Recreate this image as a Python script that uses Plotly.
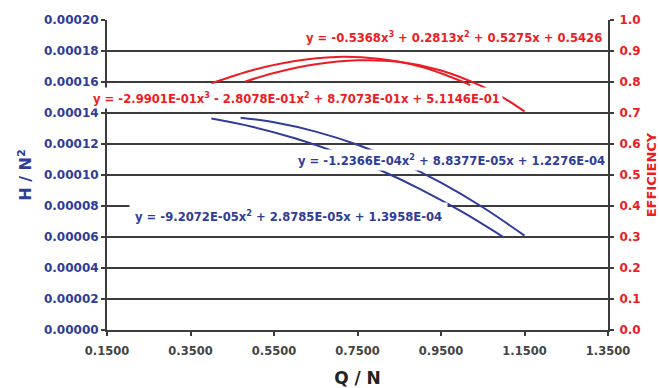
import plotly.graph_objects as go

# ---- data ----
# Head coefficient curves (left axis, H / N^2)
q_head_a = [0.40, 0.50, 0.60, 0.70, 0.80, 0.90, 1.00, 1.10]
h_head_a = [1.364e-4, 1.310e-4, 1.237e-4, 1.146e-4, 1.037e-4, 0.909e-4, 0.763e-4, 0.598e-4]

q_head_b = [0.47, 0.55, 0.65, 0.75, 0.85, 0.95, 1.05, 1.15]
h_head_b = [1.370e-4, 1.340e-4, 1.280e-4, 1.195e-4, 1.085e-4, 0.951e-4, 0.792e-4, 0.609e-4]

# Efficiency curves (right axis)
q_eff_a = [0.40, 0.50, 0.60, 0.70, 0.80, 0.90, 1.00, 1.02]
e_eff_a = [0.796, 0.839, 0.868, 0.881, 0.875, 0.850, 0.802, 0.790]

q_eff_b = [0.48, 0.55, 0.65, 0.75, 0.85, 0.95, 1.05, 1.10, 1.15]
e_eff_b = [0.801, 0.829, 0.857, 0.870, 0.865, 0.837, 0.785, 0.749, 0.705]

x_ticks = [0.15, 0.35, 0.55, 0.75, 0.95, 1.15, 1.35]
y_ticks = [0.0, 0.00002, 0.00004, 0.00006, 0.00008, 0.00010, 0.00012, 0.00014, 0.00016, 0.00018, 0.00020]
y2_ticks = [0.0, 0.1, 0.2, 0.3, 0.4, 0.5, 0.6, 0.7, 0.8, 0.9, 1.0]

eq_eff_top = "y = -0.5368x<sup>3</sup> + 0.2813x<sup>2</sup> + 0.5275x + 0.5426"
eq_eff_mid = "y = -2.9901E-01x<sup>3</sup> - 2.8078E-01x<sup>2</sup> + 8.7073E-01x + 5.1146E-01"
eq_head_b = "y = -1.2366E-04x<sup>2</sup> + 8.8377E-05x + 1.2276E-04"
eq_head_a = "y = -9.2072E-05x<sup>2</sup> + 2.8785E-05x + 1.3958E-04"

BLUE = "#2f3c98"
RED = "#ec1c24"
GRID = "#3c3c3c"
FONT = "DejaVu Sans, sans-serif"

fig = go.Figure()
fig.add_trace(go.Scatter(x=q_head_a, y=h_head_a, mode="lines", line=dict(color=BLUE, width=2, shape="spline"), showlegend=False))
fig.add_trace(go.Scatter(x=q_head_b, y=h_head_b, mode="lines", line=dict(color=BLUE, width=2, shape="spline"), showlegend=False))
fig.add_trace(go.Scatter(x=q_eff_a, y=e_eff_a, mode="lines", yaxis="y2", line=dict(color=RED, width=2, shape="spline"), showlegend=False))
fig.add_trace(go.Scatter(x=q_eff_b, y=e_eff_b, mode="lines", yaxis="y2", line=dict(color=RED, width=2, shape="spline"), showlegend=False))

def lab(text, x, y, color, yref="y", pad=2):
    return dict(text=text, x=x, y=y, xref="x", yref=yref, showarrow=False,
                font=dict(family=FONT, size=11.6, color=color, weight="bold"), bgcolor="white",
                borderpad=pad, xanchor="center", yanchor="middle")

fig.update_layout(
    width=659, height=388,
    margin=dict(l=107, r=51, t=20, b=58),
    paper_bgcolor="white", plot_bgcolor="white",
    font=dict(family=FONT),
    xaxis=dict(range=[0.15, 1.35], tickvals=x_ticks, tickformat=".4f", automargin=False,
               showgrid=False, zeroline=False, showline=True, linecolor=GRID, linewidth=2,
               ticks="outside", ticklen=4, tickwidth=2, tickcolor=GRID, ticklabelstandoff=5,
               tickfont=dict(family=FONT, size=11.5, color="#444444", weight="bold"),
               title=dict(text="Q / N", font=dict(family=FONT, size=17, color="#222222", weight="bold"), standoff=21)),
    yaxis=dict(range=[0, 0.0002], tickvals=y_ticks, tickformat=".5f", automargin=False,
               showgrid=True, gridcolor=GRID, gridwidth=2, zeroline=False,
               showline=True, linecolor=GRID, linewidth=2,
               ticks="outside", ticklen=4, tickwidth=2, tickcolor=GRID,
               tickfont=dict(family=FONT, size=12, color=BLUE, weight="bold"),
               title=dict(text="H / N<sup>2</sup>", font=dict(family=FONT, size=16, color=BLUE, weight="bold"), standoff=8)),
    yaxis2=dict(range=[0, 1.0], tickvals=y2_ticks, tickformat=".1f", overlaying="y", side="right", automargin=False,
                showgrid=False, zeroline=False, showline=True, linecolor=GRID, linewidth=2,
                ticks="outside", ticklen=4, tickwidth=2, tickcolor=GRID, ticklabelstandoff=3,
                tickfont=dict(family=FONT, size=12, color=RED, weight="bold"),
                title=dict(text="EFFICIENCY", font=dict(family=FONT, size=13, color=RED, weight="bold"), standoff=12)),
    annotations=[
        lab(eq_eff_top, 0.981, 0.945, RED, "y2"),
        lab(eq_eff_mid, 0.604, 0.750, RED, "y2"),
        lab(eq_head_b, 0.975, 0.0001100, BLUE),
        lab(eq_head_a, 0.585, 0.0000736, BLUE, pad=5),
    ],
)

fig.write_html("out.html")
